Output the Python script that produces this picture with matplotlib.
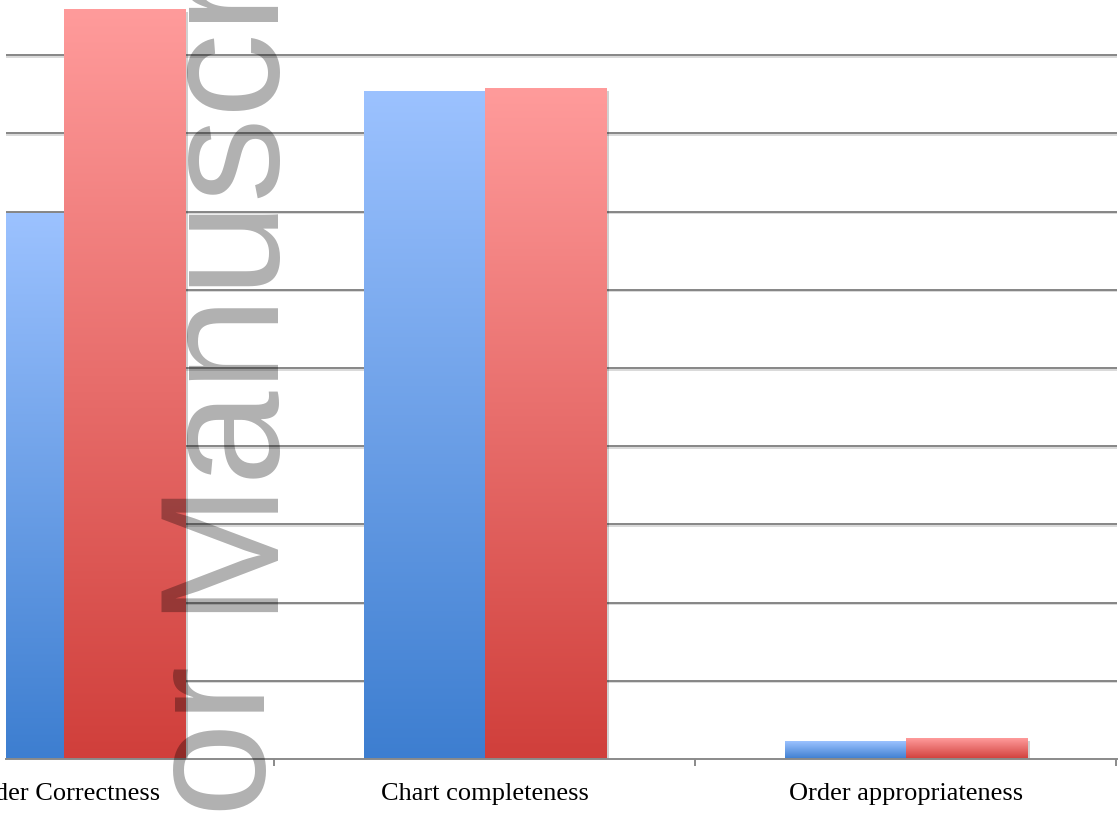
import numpy as np
import matplotlib
matplotlib.use("Agg")
from matplotlib import pyplot as plt
from matplotlib import patheffects as pe
from matplotlib.colors import LinearSegmentedColormap

categories = ["Order Correctness", "Chart completeness", "Order appropriateness"]
series_blue = [69.8, 85.4, 2.2]
series_red = [95.9, 85.8, 2.6]
y_ticks = [0, 10, 20, 30, 40, 50, 60, 70, 80, 90, 100]

W, H = 1119, 813
fig = plt.figure(figsize=(W / 100, H / 100), dpi=100)

# axes placed in pixels, left part of the chart is cut off like the reference
left_px, right_px, base_px = 6, 1117, 759
unit_px = 7.82  # pixels per value unit
top_px = base_px - 100 * unit_px
ax = fig.add_axes([left_px / W, 1 - base_px / H, (right_px - left_px) / W, (base_px - top_px) / H])

cat_px = 421.0
x0 = -(63.5 - left_px) / cat_px
x1 = 2 + (right_px - 906) / cat_px

x = np.arange(len(categories))
bw = 121 / cat_px

blue_cmap = LinearSegmentedColormap.from_list("b", ["#3d7ed0", "#9cc2ff"])
red_cmap = LinearSegmentedColormap.from_list("r", ["#d03f3b", "#ff9b9b"])

shadow = [pe.SimplePatchShadow(offset=(2.5, -2), shadow_rgbFace="black", alpha=0.18), pe.Normal()]
grad = np.linspace(0, 1, 256).reshape(-1, 1)

for vals, offs, cmap in [(series_blue, -bw / 2, blue_cmap), (series_red, bw / 2, red_cmap)]:
    bars = ax.bar(x + offs, vals, width=bw, color=cmap(0.0), zorder=3, linewidth=0)
    for b in bars:
        b.set_path_effects(shadow)
        bx, by = b.get_x(), b.get_y()
        # gradient fill over the bar's own height
        ax.imshow(grad, cmap=cmap, origin="lower", aspect="auto", interpolation="bilinear",
                  extent=[bx, bx + b.get_width(), by, by + b.get_height()], zorder=4)

ax.set_xlim(x0, x1)
ax.set_ylim(0, 100)

# gridlines
for t in y_ticks[1:]:
    ax.axhline(t, color="#7d7d7d", lw=1.3, zorder=1,
               path_effects=[pe.SimpleLineShadow(offset=(0, -1.2), shadow_color="#bbbbbb", alpha=0.6), pe.Normal()])

for s in ["left", "right", "top"]:
    ax.spines[s].set_visible(False)
ax.spines["bottom"].set_color("#8a8a8a")
ax.spines["bottom"].set_linewidth(1.4)
ax.spines["bottom"].set_zorder(5)

ax.set_yticks([])
ax.set_xticks(x)
ax.set_xticklabels(categories, fontfamily="Liberation Serif", fontsize=19)
ax.tick_params(axis="x", which="major", length=0, pad=17)
ax.set_xticks([0.5, 1.5, 2.5], minor=True)
ax.tick_params(axis="x", which="minor", length=5, width=1.2, color="#777777", direction="out")

# watermark
wm_kw = dict(rotation=90, rotation_mode="anchor", va="baseline", fontsize=122,
             fontfamily="Liberation Sans", color="black", alpha=0.31, zorder=10)
fig.text(265 / W, 1 - 612 / H, "Manuscript", ha="left", **wm_kw)
fig.text(265 / W, 1 - 665 / H, "Author", ha="right", **wm_kw)

fig.savefig("out.png", dpi=100)
